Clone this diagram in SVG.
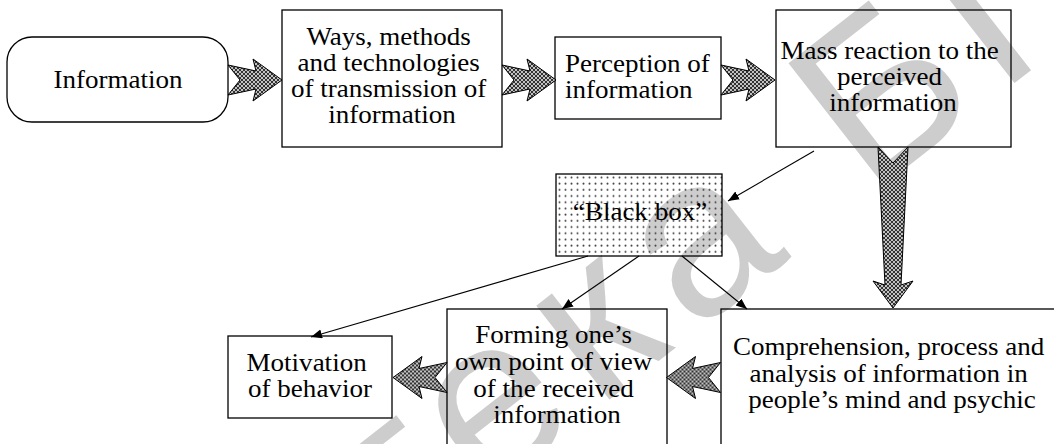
<svg xmlns="http://www.w3.org/2000/svg" width="1054" height="444" viewBox="0 0 1054 444">
  <style>
    .box { fill: none; stroke: #000; stroke-width: 1.3; }
    .t { font-family: "Liberation Serif", "Times New Roman", serif; font-size: 25.5px; fill: #000; }
    .c { text-anchor: middle; }
    .blk { fill: url(#weave); stroke: #000; stroke-width: 1; stroke-linejoin: miter; }
    .ln { fill: none; stroke: #000; stroke-width: 1.1; marker-end: url(#tip); }
    .wm { font-family: "Liberation Sans", Arial, sans-serif; font-size: 225px; letter-spacing: 18px; fill: #cdcdcd; }
  </style>
  <defs>
    <!-- dark lattice fill used by the thick block arrows -->
    <pattern id="weave" width="4" height="4" patternUnits="userSpaceOnUse">
      <rect width="4" height="4" fill="#333"/>
      <circle cx="0" cy="0" r="0.95" fill="#fff"/>
      <circle cx="4" cy="0" r="0.95" fill="#fff"/>
      <circle cx="0" cy="4" r="0.95" fill="#fff"/>
      <circle cx="4" cy="4" r="0.95" fill="#fff"/>
      <circle cx="2" cy="2" r="0.95" fill="#fff"/>
    </pattern>
    <!-- sparse dot grid for the "black box" -->
    <pattern id="dots" width="6" height="6.2" patternUnits="userSpaceOnUse" x="558" y="176">
      <circle cx="1.5" cy="1.5" r="1" fill="#444"/>
    </pattern>
    <!-- notched block arrow pointing right, tail at origin -->
    <path id="blkArrow" d="M0,-15 L28,-9 L25,-21 L54,0 L25,21 L28,9 L0,15 L12,0 Z"/>
    <marker id="tip" markerWidth="12" markerHeight="10" refX="11" refY="4.5" orient="auto" markerUnits="userSpaceOnUse">
      <path d="M0,0 L11,4.5 L0,9 Z" fill="#000"/>
    </marker>
  </defs>

  <rect width="1054" height="444" fill="#fff"/>

  <!-- background watermark -->
  <text class="wm" transform="translate(-300 1110) rotate(-38)">Библиотека БГУИР</text>

  <g id="information">
    <rect class="box" x="7" y="37" width="221" height="85" rx="25" ry="25"/>
    <text class="t c" transform="translate(118 0) scale(1.06 1)"><tspan x="0" y="88">Information</tspan></text>
  </g>

  <g id="ways">
    <rect class="box" x="282" y="10" width="220" height="137"/>
    <text class="t c" transform="translate(392 0) scale(1.06 1)">
      <tspan x="0" y="45">Ways, methods</tspan>
      <tspan x="0" y="71">and technologies</tspan>
      <tspan x="0" y="97">of transmission of</tspan>
      <tspan x="0" y="123">information</tspan>
    </text>
  </g>

  <g id="perception">
    <rect class="box" x="555" y="37" width="166" height="82"/>
    <text class="t" transform="translate(565 0) scale(1.06 1)">
      <tspan x="0" y="72">Perception of</tspan>
      <tspan x="0" y="98">information</tspan>
    </text>
  </g>

  <g id="mass-reaction">
    <rect class="box" x="776" y="10" width="235" height="137"/>
    <text class="t c" transform="translate(893 0) scale(1.06 1)">
      <tspan x="0" y="59">Mass reaction to the</tspan>
      <tspan x="0" y="85">perceived</tspan>
      <tspan x="0" y="111">information</tspan>
    </text>
  </g>

  <g id="black-box">
    <rect x="556" y="174" width="166" height="82" fill="url(#dots)" stroke="#000" stroke-width="1.3"/>
    <text class="t c" transform="translate(640 0) scale(1.06 1)"><tspan x="0" y="220">“Black box”</tspan></text>
  </g>

  <g id="motivation">
    <rect class="box" x="228" y="336" width="164" height="82"/>
    <text class="t c" transform="translate(310 0) scale(1.06 1)">
      <tspan x="0" y="371">Motivation</tspan>
      <tspan x="0" y="397">of behavior</tspan>
    </text>
  </g>

  <g id="forming">
    <rect class="box" x="447" y="309" width="220" height="150"/>
    <text class="t c" transform="translate(557 0) scale(1.06 1)">
      <tspan x="0" y="343">Forming one’s</tspan>
      <tspan x="0" y="370">own point of view</tspan>
      <tspan x="0" y="397">of the received</tspan>
      <tspan x="0" y="423">information</tspan>
    </text>
  </g>

  <g id="comprehension">
    <rect class="box" x="721" y="309" width="350" height="150"/>
    <text class="t c" transform="translate(892 0) scale(1.06 1)">
      <tspan x="0" y="355">Comprehension, process and</tspan>
      <tspan x="0" y="382">analysis of information in</tspan>
      <tspan x="0" y="408">people’s mind and psychic</tspan>
    </text>
  </g>

  <g id="connectors">
    <!-- thick block arrows -->
    <use href="#blkArrow" class="blk" transform="translate(228 80)"/>
    <use href="#blkArrow" class="blk" transform="translate(502 80)"/>
    <use href="#blkArrow" class="blk" transform="translate(721 80)"/>
    <path class="blk" d="M878,147 L893,163 L908,147 L901,285 L913,281 L893,308 L873,281 L885,285 Z"/>
    <use href="#blkArrow" class="blk" transform="translate(720.5 377.5) scale(-1 1)"/>
    <use href="#blkArrow" class="blk" transform="translate(447 377.5) scale(-1 1)"/>
    <!-- thin arrows -->
    <line class="ln" x1="814" y1="151" x2="728" y2="201"/>
    <line class="ln" x1="588" y1="256" x2="311" y2="337"/>
    <line class="ln" x1="639" y1="256" x2="562" y2="309"/>
    <line class="ln" x1="682" y1="256" x2="747" y2="309"/>
  </g>
</svg>
